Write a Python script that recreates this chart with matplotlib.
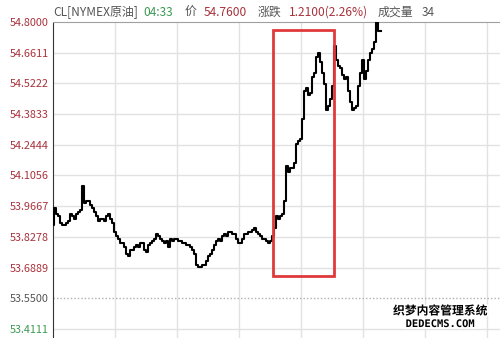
import matplotlib.pyplot as plt
import matplotlib.patheffects as pe
from matplotlib.patches import Rectangle

plt.rcParams['font.family'] = ['Noto Sans CJK SC', 'DejaVu Sans']

# CL (NYMEX crude) intraday prices, one point every ~2 minutes
prices = [
    53.88, 53.96, 53.93, 53.92, 53.89, 53.88, 53.88, 53.89, 53.90, 53.93,
    53.92, 53.91, 53.93, 53.94, 53.95, 54.06, 53.98, 53.99, 53.99, 53.97,
    53.96, 53.94, 53.92, 53.90, 53.91, 53.91, 53.90, 53.92, 53.93, 53.91,
    53.89, 53.85, 53.83, 53.82, 53.80, 53.80, 53.78, 53.75, 53.74, 53.77,
    53.77, 53.78, 53.79, 53.78, 53.80, 53.80, 53.77, 53.76, 53.79, 53.80,
    53.81, 53.82, 53.84, 53.83, 53.82, 53.81, 53.80, 53.81, 53.78, 53.82,
    53.81, 53.82, 53.82, 53.81, 53.81, 53.80, 53.80, 53.79, 53.79, 53.78,
    53.77, 53.75, 53.70, 53.69, 53.69, 53.70, 53.70, 53.72, 53.74, 53.75,
    53.77, 53.79, 53.81, 53.82, 53.81, 53.83, 53.84, 53.83, 53.85, 53.85,
    53.84, 53.84, 53.82, 53.80, 53.80, 53.82, 53.84, 53.84, 53.85, 53.85,
    53.86, 53.87, 53.85, 53.84, 53.83, 53.82, 53.82, 53.81, 53.80, 53.81,
    53.83, 53.87, 53.92, 53.91, 53.92, 53.93, 53.99, 54.15, 54.12, 54.14,
    54.14, 54.16, 54.25, 54.26, 54.27, 54.36, 54.49, 54.50, 54.47, 54.48,
    54.55, 54.57, 54.64, 54.66, 54.62, 54.57, 54.52, 54.40, 54.42, 54.45,
    54.51, 54.69, 54.63, 54.60, 54.59, 54.56, 54.54, 54.55, 54.49, 54.44,
    54.40, 54.41, 54.42, 54.51, 54.57, 54.63, 54.54, 54.58, 54.63, 54.66,
    54.68, 54.71, 54.80, 54.76, 54.76,
]

prev_close = 53.55
y_ticks = [54.8000, 54.6611, 54.5222, 54.3833, 54.2444, 54.1056,
           53.9667, 53.8278, 53.6889, 53.5500, 53.4111]
n_slots = 223.5          # full session width in points
grid_step = 31           # vertical grid every 31 points
box_start, box_end = 110, 140.5
box_low, box_high = 53.651, 54.764

red = '#a8323c'
green = '#3a9a52'
gray = '#555555'

fig = plt.figure(figsize=(5, 3.38), dpi=100)
ax = fig.add_axes([53 / 500, 0, 447 / 500, 316 / 338])

ax.set_xlim(0, n_slots)
ax.set_ylim(53.370, 54.800)

# grid
for gx in range(grid_step, int(n_slots) + 1, grid_step):
    ax.axvline(gx, color='#e2e2e2', lw=1, zorder=0)
for t in y_ticks:
    if t == prev_close:
        ax.axhline(t, color='#b0b0b0', lw=1, ls=(0, (1, 1.5)), zorder=0)
    elif t != y_ticks[0]:
        ax.axhline(t, color='#e2e2e2', lw=1, zorder=0)

ax.plot(range(len(prices)), prices, color='black', lw=1.5,
        drawstyle='steps-mid', zorder=3)

ax.add_patch(Rectangle((box_start, box_low), box_end - box_start, box_high - box_low,
                       fill=False, edgecolor='#e0393c', lw=2, zorder=4))

ax.set_yticks(y_ticks)
ax.set_yticklabels([f'{t:.4f}' for t in y_ticks], fontsize=7.8)
for lab, t in zip(ax.get_yticklabels(), y_ticks):
    if t > prev_close:
        lab.set_color(red)
    elif t < prev_close:
        lab.set_color(green)
    else:
        lab.set_color(gray)
ax.tick_params(axis='y', length=0, pad=3)
ax.set_xticks([])

for s in ['right', 'bottom']:
    ax.spines[s].set_visible(False)
ax.spines['left'].set_color('#333333')
ax.spines['top'].set_color('#a0a0a0')

# header line
header = [
    ('CL[NYMEX原油]', gray, 53),
    ('04:33', green, 143),
    ('价', gray, 185),
    ('54.7600', red, 204),
    ('涨跌', gray, 258),
    ('1.2100(2.26%)', red, 289),
    ('成交量', gray, 378),
    ('34', gray, 422),
]
for txt, col, px in header:
    fig.text(px / 500, 1 - 12 / 338, txt, color=col, fontsize=8.6,
             ha='left', va='center')

# watermark
halo = [pe.withStroke(linewidth=2.5, foreground='white')]
fig.text(440 / 500, 1 - 311 / 338, '织梦内容管理系统', color='black', fontsize=8.5,
         fontweight='bold', ha='center', va='center', path_effects=halo)
fig.text(440 / 500, 1 - 324 / 338, 'DEDECMS.COM', color='black', fontsize=7.5,
         fontweight='bold', family='DejaVu Sans Mono', ha='center', va='center',
         path_effects=halo)

fig.savefig('out.png', dpi=100)
